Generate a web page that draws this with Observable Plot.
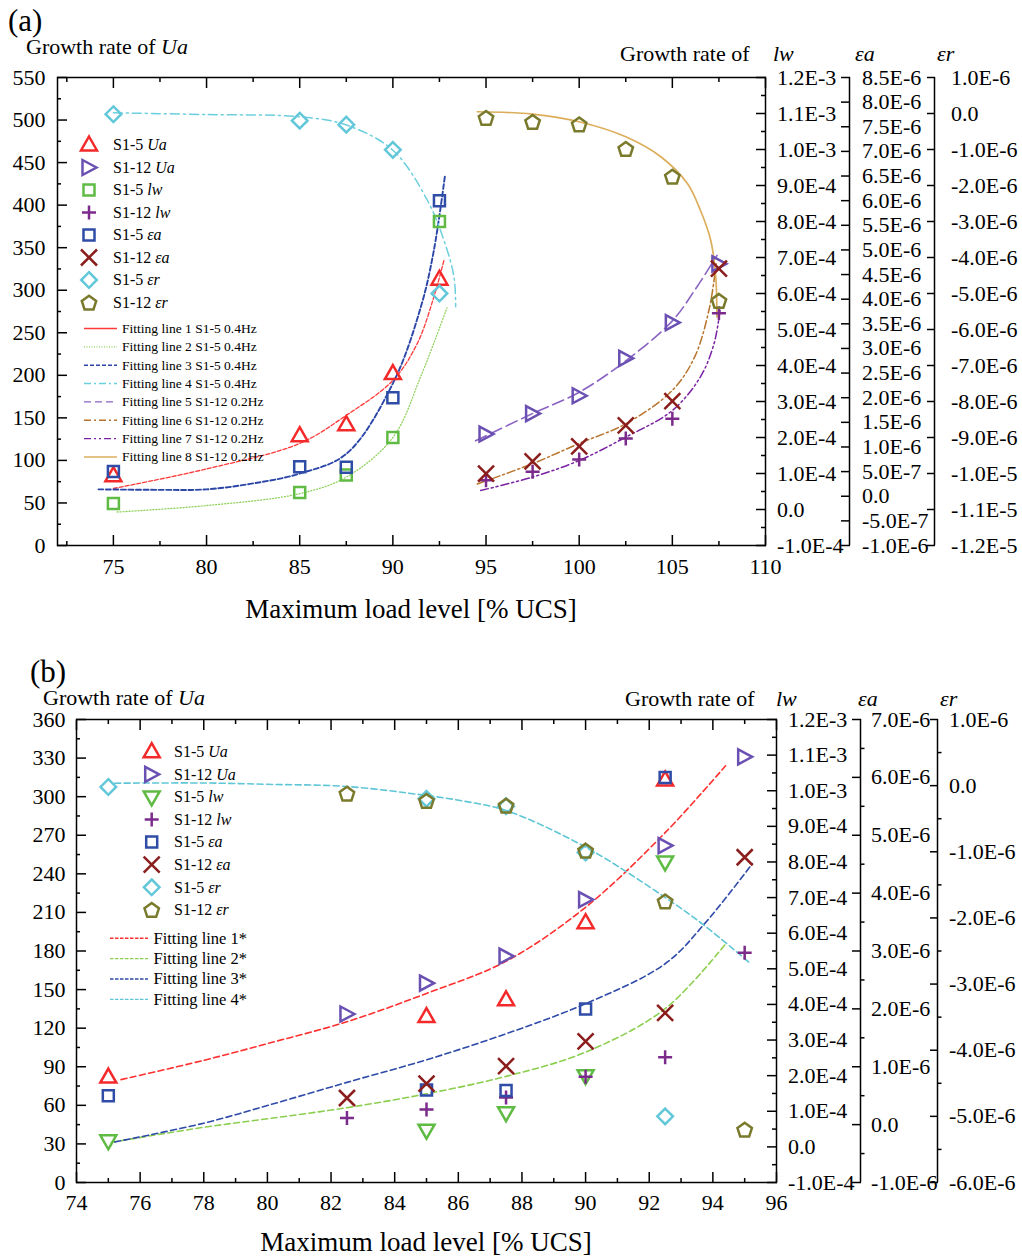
<!DOCTYPE html>
<html>
<head>
<meta charset="utf-8">
<script src="https://cdn.jsdelivr.net/npm/d3@7"></script>
<script src="https://cdn.jsdelivr.net/npm/@observablehq/plot@0.6"></script>
<style>
  html, body { margin: 0; padding: 0; background: #fff; }
  #root { position: relative; width: 1022px; height: 1258px; overflow: hidden; background: #fff; }
  #root svg { position: absolute; left: 0; }
</style>
</head>
<body>
<div id="root"></div>
<script>
const FONT = '"Liberation Serif","Times New Roman",serif';

// ---------------- data ----------------
// x positions (maximum load level, % UCS)
const loadS15 = [75, 85, 87.5, 90, 92.5];
const loadS112A = [95, 97.5, 100, 102.5, 105, 107.5];
const loadS112B = [82.5, 85, 87.5, 90, 92.5, 95];

// growth rates
const s15Ua = [82, 129, 142, 202, 313];
const s112Ua = [131, 155, 176, 220, 262, 331];
const s15Lw = [1.7e-5, 4.7e-5, 9.6e-5, 2.0e-4, 8.0e-4];
const s112Lw = [8.1e-5, 1.05e-4, 1.39e-4, 1.97e-4, 2.52e-4, 5.45e-4];
const s15Ea = [5.0e-7, 6.0e-7, 5.9e-7, 2.0e-6, 6.0e-6];
const s112Ea = [4.6e-7, 7.1e-7, 1.01e-6, 1.44e-6, 1.93e-6, 4.62e-6];
const s15Er = [-2e-8, -2.0e-7, -3.1e-7, -1.01e-6, -5.0e-6];
const s112Er = [-1.2e-7, -2.3e-7, -3.0e-7, -9.8e-7, -1.75e-6, -5.2e-6];

// fitting lines, panel (a)
const fit1Ax = [75, 80, 85, 87.5, 90, 91.3, 92.2, 92.74];
const fit1Ay = [67, 90, 120, 153, 194, 237, 292, 335];            // Ua
const fit2Ax = [75.2, 80, 85, 87.5, 90, 91.5, 92.9];
const fit2Ay = [-7e-6, 1.1e-5, 4.4e-5, 9.0e-5, 2.0e-4, 3.7e-4, 5.6e-4]; // lw
const fit3Ax = [74.2, 77.5, 80, 82.5, 85, 87.5, 90, 91.5, 92.2, 92.8];
const fit3Ay = [1.4e-7, 1.3e-7, 1.4e-7, 2.6e-7, 4.6e-7, 8.6e-7, 2.29e-6, 3.84e-6, 4.99e-6, 6.52e-6]; // ea
const fit4Ax = [75, 80, 85, 87.5, 90, 91.85, 92.74, 93.28, 93.37];
const fit4Ay = [2e-8, -3e-8, -9e-8, -3.2e-7, -1.02e-6, -2.41e-6, -3.52e-6, -4.54e-6, -5.37e-6]; // er
const fit5Ax = [94.44, 97.49, 99.99, 102.5, 105.0, 106.2, 107.4];
const fit5Ay = [123, 155, 180, 217, 264, 300, 341];               // Ua
const fit6Ax = [94.53, 97.49, 99.99, 102.5, 105.0, 106.2, 107.0, 107.35];
const fit6Ay = [2.5e-7, 6.6e-7, 1.07e-6, 1.47e-6, 2.15e-6, 2.83e-6, 3.84e-6, 4.72e-6]; // ea
const fit7Ax = [94.71, 97.49, 99.99, 102.5, 105, 106.5, 107.24, 107.56];
const fit7Ay = [5.3e-5, 9.0e-5, 1.36e-4, 2.01e-4, 2.75e-4, 3.68e-4, 4.61e-4, 5.53e-4]; // lw
const fit8Ax = [94.53, 97.49, 99.99, 102.5, 104.38, 105.8, 106.5, 107.06, 107.33, 107.39];
const fit8Ay = [4.9e-8, -1.5e-8, -2.29e-7, -6.46e-7, -1.20e-6, -1.94e-6, -2.68e-6, -3.52e-6, -4.54e-6, -5.65e-6]; // er

// fitting lines, panel (b)
const fit1Bx = [75.4, 78, 80, 82.5, 85, 87.5, 90, 92.5, 94.4];
const fit1By = [80, 95, 108, 125, 147, 172, 214, 272, 324];       // Ua
const fit2Bx = [75.1, 78, 80, 82.5, 85, 87.5, 90, 92.5, 94.4];
const fit2By = [1.3e-5, 5.5e-5, 7.9e-5, 1.10e-4, 1.49e-4, 1.98e-4, 2.66e-4, 3.88e-4, 5.70e-4]; // lw
const fit3Bx = [75.2, 78, 80, 82.5, 85, 87.5, 90, 92.5, 93.8, 95.24];
const fit3By = [-3.0e-7, 2.5e-8, 3.3e-7, 7.3e-7, 1.12e-6, 1.57e-6, 2.09e-6, 2.78e-6, 3.51e-6, 4.51e-6]; // ea
const fit4Bx = [75.2, 78, 80, 82.5, 85, 86.06, 87.5, 90, 92.5, 93.8, 95.18];
const fit4By = [3.7e-8, 4e-8, 2e-8, -1.3e-8, -1.49e-7, -2.25e-7, -3.76e-7, -9.3e-7, -1.69e-6, -2.14e-6, -2.69e-6]; // er

// axis domains
const uaDomA = [0, 550], uaDomB = [0, 360];
const lwDom = [-1e-4, 1.2e-3];
const eaDomA = [-1e-6, 8.5e-6], eaDomB = [-1e-6, 7e-6];
const erDomA = [-1.2e-5, 1e-6], erDomB = [-6e-6, 1e-6];
const xDomA = [72, 110], xDomB = [74, 96];

// tick values
const xTicksA = [75, 80, 85, 90, 95, 100, 105, 110];
const xMinorA = [72.5, 77.5, 82.5, 87.5, 92.5, 97.5, 102.5, 107.5];
const uaTicksA = [0, 50, 100, 150, 200, 250, 300, 350, 400, 450, 500, 550];
const uaMinorA = [25, 75, 125, 175, 225, 275, 325, 375, 425, 475, 525];
const xTicksB = [74, 76, 78, 80, 82, 84, 86, 88, 90, 92, 94, 96];
const xMinorB = [75, 77, 79, 81, 83, 85, 87, 89, 91, 93, 95];
const uaTicksB = [0, 30, 60, 90, 120, 150, 180, 210, 240, 270, 300, 330, 360];
const uaMinorB = [15, 45, 75, 105, 135, 165, 195, 225, 255, 285, 315, 345];
const lwTicks = [-1e-4, 0, 1e-4, 2e-4, 3e-4, 4e-4, 5e-4, 6e-4, 7e-4, 8e-4, 9e-4, 1e-3, 1.1e-3, 1.2e-3];
const lwMinor = [-5e-5, 5e-5, 1.5e-4, 2.5e-4, 3.5e-4, 4.5e-4, 5.5e-4, 6.5e-4, 7.5e-4, 8.5e-4, 9.5e-4, 1.05e-3, 1.15e-3];
const eaTicksA = [-1e-6, -5e-7, 0, 5e-7, 1e-6, 1.5e-6, 2e-6, 2.5e-6, 3e-6, 3.5e-6, 4e-6, 4.5e-6, 5e-6, 5.5e-6, 6e-6, 6.5e-6, 7e-6, 7.5e-6, 8e-6, 8.5e-6];
const erTicksA = [-1.2e-5, -1.1e-5, -1e-5, -9e-6, -8e-6, -7e-6, -6e-6, -5e-6, -4e-6, -3e-6, -2e-6, -1e-6, 0, 1e-6];
const eaTicksB = [-1e-6, 0, 1e-6, 2e-6, 3e-6, 4e-6, 5e-6, 6e-6, 7e-6];
const eaMinorB = [-5e-7, 5e-7, 1.5e-6, 2.5e-6, 3.5e-6, 4.5e-6, 5.5e-6, 6.5e-6];
const erTicksB = [-6e-6, -5e-6, -4e-6, -3e-6, -2e-6, -1e-6, 0, 1e-6];
const erMinorB = [-5.5e-6, -4.5e-6, -3.5e-6, -2.5e-6, -1.5e-6, -5e-7, 5e-7];

// colours
const cS15Ua = "#f42a2a", cS112Ua = "#6a50b2", cS15Lw = "#5fbb43", cS112Lw = "#7b2b8b";
const cS15Ea = "#2f4ca6", cS112Ea = "#8b1d1d", cS15Er = "#62c8d9", cS112Er = "#7a7a2c";

// ---------------- symbols ----------------
function poly(pts) {
  return {draw(ctx) { ctx.moveTo(pts[0][0], pts[0][1]); for (let i = 1; i < pts.length; i++) ctx.lineTo(pts[i][0], pts[i][1]); ctx.closePath(); }};
}
const symTriUp = poly([[0, -8.5], [8, 5.5], [-8, 5.5]]);
const symTriDown = poly([[0, 8.5], [8, -5.5], [-8, -5.5]]);
const symTriRight = poly([[7.5, 0], [-6.5, -7.5], [-6.5, 7.5]]);
const symSquare = poly([[-5.5, -5.5], [5.5, -5.5], [5.5, 5.5], [-5.5, 5.5]]);
const symDiamond = poly([[0, -7.8], [7.8, 0], [0, 7.8], [-7.8, 0]]);
const symPentagon = poly(d3.range(5).map(i => { const a = -Math.PI / 2 + i * 2 * Math.PI / 5; return [7.6 * Math.cos(a), 7.6 * Math.sin(a) + 0.8]; }));
const symPlus = {draw(ctx) { ctx.moveTo(-7, 0); ctx.lineTo(7, 0); ctx.moveTo(0, -7); ctx.lineTo(0, 7); }};
const symCross = {draw(ctx) { ctx.moveTo(-8, -8); ctx.lineTo(8, 8); ctx.moveTo(-8, 8); ctx.lineTo(8, -8); }};

const fmtE = v => Math.abs(v) < 1e-15 ? "0.0" : v.toExponential(1).replace("e", "E").replace("+", "");

function makePanel(cfg) {
  const L = cfg.left;
  const conv = dom => v => L[0] + (v - dom[0]) / (dom[1] - dom[0]) * (L[1] - L[0]);
  const to = {ua: v => v, lw: conv(lwDom), ea: conv(cfg.eaDom), er: conv(cfg.erDom)};
  const labeller = (ticks, f) => { const m = new Map(ticks.map(t => [f(t), fmtE(t)])); return d => m.get(d); };
  const pts = (xs, vs, k) => xs.map((x, i) => ({x, y: to[k](vs[i])}));
  const W = 1.5;
  const marks = [];
  for (const f of cfg.fits) {
    marks.push(Plot.line(pts(f.x, f.v, f.axis), {x: "x", y: "y", stroke: f.color, strokeWidth: f.width, strokeDasharray: f.dash, curve: "catmull-rom"}));
  }
  for (const s of cfg.series) {
    marks.push(Plot.dot(pts(s.x, s.v, s.axis), {x: "x", y: "y", symbol: s.sym, stroke: s.color, strokeWidth: 2.5, fill: "none", strokeLinejoin: "miter"}));
  }
  marks.push(
    Plot.frame({stroke: "#000", strokeWidth: W}),
    Plot.axisY(cfg.uaTicks, {anchor: "left", tickSize: -10, tickPadding: cfg.leftPad, strokeWidth: W, fontSize: 22, label: null, tickFormat: d => String(d)}),
    Plot.axisY(cfg.uaMinor, {anchor: "left", tickSize: -4, strokeWidth: W, fill: "none", label: null}),
    Plot.axisX(cfg.xTicks, {anchor: "bottom", tickSize: -10, tickPadding: cfg.bottomPad, strokeWidth: W, fontSize: 22, label: null, tickFormat: d => String(d)}),
    Plot.axisX(cfg.xMinor, {anchor: "bottom", tickSize: -4, strokeWidth: W, fill: "none", label: null}),
    Plot.axisX(cfg.xTicks, {anchor: "top", tickSize: -10, strokeWidth: W, fill: "none", label: null}),
    Plot.axisX(cfg.xMinor, {anchor: "top", tickSize: -4, strokeWidth: W, fill: "none", label: null}),
    Plot.axisY(lwTicks.map(to.lw), {anchor: "right", tickSize: -10, tickPadding: cfg.lwPad, strokeWidth: W, fontSize: 22, label: null, tickFormat: labeller(lwTicks, to.lw)}),
    Plot.axisY(lwMinor.map(to.lw), {anchor: "right", tickSize: -5, strokeWidth: W, fill: "none", label: null}),
    Plot.ruleX([cfg.xDom[1]], {dx: cfg.eaOff, stroke: "#000", strokeWidth: W}),
    Plot.axisY(cfg.eaTicks.map(to.ea), {anchor: "right", dx: cfg.eaOff, tickSize: -9, tickPadding: cfg.eaPad, strokeWidth: W, fontSize: 22, label: null, tickFormat: labeller(cfg.eaTicks, to.ea)}),
    Plot.ruleX([cfg.xDom[1]], {dx: cfg.erOff, stroke: "#000", strokeWidth: W}),
    Plot.axisY(cfg.erTicks.map(to.er), {anchor: "right", dx: cfg.erOff, tickSize: -8, tickPadding: cfg.erPad, strokeWidth: W, fontSize: 22, label: null, tickFormat: labeller(cfg.erTicks, to.er)})
  );
  if (cfg.eaMinor) marks.push(Plot.axisY(cfg.eaMinor.map(to.ea), {anchor: "right", dx: cfg.eaOff, tickSize: 3.5, strokeWidth: W, fill: "none", label: null}));
  if (cfg.erMinor) marks.push(Plot.axisY(cfg.erMinor.map(to.er), {anchor: "right", dx: cfg.erOff, tickSize: 3.5, strokeWidth: W, fill: "none", label: null}));

  const svg = Plot.plot({
    width: 1022, height: cfg.height,
    marginLeft: cfg.ml, marginRight: cfg.mr, marginTop: cfg.mt, marginBottom: cfg.mb,
    x: {domain: cfg.xDom},
    y: {domain: L},
    style: {fontFamily: FONT, fontSize: "22px", color: "#000", background: "transparent", overflow: "visible"},
    marks
  });
  svg.style.top = cfg.top + "px";
  svg.style.maxWidth = "none";
  return svg;
}

function addText(svg, x, y, parts, size, anchor) {
  const t = d3.select(svg).append("text").attr("x", x).attr("y", y).attr("font-size", size)
    .attr("font-family", FONT).attr("fill", "#000").attr("text-anchor", anchor || "start");
  for (const p of parts) {
    const s = t.append("tspan").text(typeof p === "string" ? p : p.t);
    if (typeof p !== "string") s.attr("font-style", "italic");
  }
}

function addLegend(svg, lg) {
  const g = d3.select(svg).append("g").attr("text-anchor", "start");
  lg.markers.forEach((m, i) => {
    const y = lg.my0 + i * lg.mdy;
    const p = d3.path(); m.sym.draw(p, 0);
    g.append("path").attr("d", p.toString()).attr("transform", `translate(${lg.mx},${y})`)
      .attr("fill", "none").attr("stroke", m.color).attr("stroke-width", 2.5).attr("stroke-linejoin", "miter");
    const t = g.append("text").attr("x", lg.mtx).attr("y", y + lg.mfs * 0.33).attr("font-size", lg.mfs)
      .attr("font-family", FONT).attr("fill", "#000").attr("text-anchor", "start");
    t.append("tspan").text(m.label[0]);
    t.append("tspan").attr("font-style", "italic").text(m.label[1]);
  });
  lg.fits.forEach((f, i) => {
    const y = lg.fy0 + i * lg.fdy;
    g.append("line").attr("x1", lg.fx1).attr("x2", lg.fx2).attr("y1", y).attr("y2", y)
      .attr("stroke", f.color).attr("stroke-width", f.lw || 1.4).attr("stroke-dasharray", f.ldash || null);
    g.append("text").attr("x", lg.ftx).attr("y", y + lg.ffs * 0.33).attr("font-size", lg.ffs)
      .attr("font-family", FONT).attr("fill", "#000").attr("text-anchor", "start").text(f.label);
  });
}

// ---------------- panel (a) ----------------
const fitsA = [
  {x: fit1Ax, v: fit1Ay, axis: "ua", color: "#ff3838", width: 1.3, dash: "4,2", ldash: null, label: "Fitting line 1 S1-5 0.4Hz"},
  {x: fit2Ax, v: fit2Ay, axis: "lw", color: "#8fd05a", width: 1.3, dash: "1,2", ldash: "1,1.5", label: "Fitting line 2 S1-5 0.4Hz"},
  {x: fit3Ax, v: fit3Ay, axis: "ea", color: "#2c46a8", width: 1.9, dash: "5,2.5", ldash: "4,2", label: "Fitting line 3 S1-5 0.4Hz"},
  {x: fit4Ax, v: fit4Ay, axis: "er", color: "#6ccfdd", width: 1.5, dash: "9,4,2,4", ldash: "7,3,2,3", label: "Fitting line 4 S1-5 0.4Hz"},
  {x: fit5Ax, v: fit5Ay, axis: "ua", color: "#8a63c3", width: 1.6, dash: "12,5", ldash: "7,4", label: "Fitting line 5 S1-12 0.2Hz"},
  {x: fit6Ax, v: fit6Ay, axis: "ea", color: "#b8742c", width: 1.5, dash: "8,3,2,3", ldash: "7,3,2,3", label: "Fitting line 6 S1-12 0.2Hz"},
  {x: fit7Ax, v: fit7Ay, axis: "lw", color: "#7a22a4", width: 1.5, dash: "8,3,2,3,2,3", ldash: "7,3,2,3,2,3", label: "Fitting line 7 S1-12 0.2Hz"},
  {x: fit8Ax, v: fit8Ay, axis: "er", color: "#dcae5c", width: 1.7, dash: null, ldash: null, label: "Fitting line 8 S1-12 0.2Hz"}
];
const seriesA = [
  {x: loadS15, v: s15Ua, axis: "ua", sym: symTriUp, color: cS15Ua, label: ["S1-5 ", "Ua"]},
  {x: loadS112A, v: s112Ua, axis: "ua", sym: symTriRight, color: cS112Ua, label: ["S1-12 ", "Ua"]},
  {x: loadS15, v: s15Lw, axis: "lw", sym: symSquare, color: cS15Lw, label: ["S1-5 ", "lw"]},
  {x: loadS112A, v: s112Lw, axis: "lw", sym: symPlus, color: cS112Lw, label: ["S1-12 ", "lw"]},
  {x: loadS15, v: s15Ea, axis: "ea", sym: symSquare, color: cS15Ea, label: ["S1-5 ", "εa"]},
  {x: loadS112A, v: s112Ea, axis: "ea", sym: symCross, color: cS112Ea, label: ["S1-12 ", "εa"]},
  {x: loadS15, v: s15Er, axis: "er", sym: symDiamond, color: cS15Er, label: ["S1-5 ", "εr"]},
  {x: loadS112A, v: s112Er, axis: "er", sym: symPentagon, color: cS112Er, label: ["S1-12 ", "εr"]}
];
const svgA = makePanel({
  top: 0, height: 640, ml: 57, mr: 257, mt: 77, mb: 95,
  xDom: xDomA, left: uaDomA, eaDom: eaDomA, erDom: erDomA,
  xTicks: xTicksA, xMinor: xMinorA, uaTicks: uaTicksA, uaMinor: uaMinorA,
  eaTicks: eaTicksA, erTicks: erTicksA,
  leftPad: 22, bottomPad: 23, lwPad: 21.5, eaPad: 21.5, erPad: 24.5, eaOff: 84, erOff: 169,
  fits: fitsA, series: seriesA
});
addText(svgA, 8, 31, ["(a)"], 31);
addText(svgA, 26, 54, ["Growth rate of ", {t: "Ua"}], 22);
addText(svgA, 620, 61, ["Growth rate of"], 22);
addText(svgA, 773, 61, [{t: "lw"}], 22);
addText(svgA, 855, 61, [{t: "εa"}], 22);
addText(svgA, 937, 61, [{t: "εr"}], 22);
addText(svgA, 411, 618, ["Maximum load level [% UCS]"], 27, "middle");
addLegend(svgA, {
  markers: seriesA, mx: 89, my0: 145, mdy: 22.5, mtx: 113, mfs: 16,
  fits: fitsA, fy0: 328.5, fdy: 18.35, fx1: 84, fx2: 117, ftx: 122, ffs: 13.5
});

// ---------------- panel (b) ----------------
const fitsB = [
  {x: fit1Bx, v: fit1By, axis: "ua", color: "#ff3030", width: 1.6, dash: "6,3.5", ldash: "3.5,1.5", label: "Fitting line 1*"},
  {x: fit2Bx, v: fit2By, axis: "lw", color: "#8ccf50", width: 1.6, dash: "6,3.5", ldash: "3.5,1.5", label: "Fitting line 2*"},
  {x: fit3Bx, v: fit3By, axis: "ea", color: "#2e4aa8", width: 1.6, dash: "6,3.5", ldash: "3.5,1.5", label: "Fitting line 3*"},
  {x: fit4Bx, v: fit4By, axis: "er", color: "#5ec6d6", width: 1.6, dash: "6,3.5", ldash: "3.5,1.5", label: "Fitting line 4*"}
];
const seriesB = [
  {x: loadS15, v: s15Ua, axis: "ua", sym: symTriUp, color: cS15Ua, label: ["S1-5 ", "Ua"]},
  {x: loadS112B, v: s112Ua, axis: "ua", sym: symTriRight, color: cS112Ua, label: ["S1-12 ", "Ua"]},
  {x: loadS15, v: s15Lw, axis: "lw", sym: symTriDown, color: cS15Lw, label: ["S1-5 ", "lw"]},
  {x: loadS112B, v: s112Lw, axis: "lw", sym: symPlus, color: cS112Lw, label: ["S1-12 ", "lw"]},
  {x: loadS15, v: s15Ea, axis: "ea", sym: symSquare, color: cS15Ea, label: ["S1-5 ", "εa"]},
  {x: loadS112B, v: s112Ea, axis: "ea", sym: symCross, color: cS112Ea, label: ["S1-12 ", "εa"]},
  {x: loadS15, v: s15Er, axis: "er", sym: symDiamond, color: cS15Er, label: ["S1-5 ", "εr"]},
  {x: loadS112B, v: s112Er, axis: "er", sym: symPentagon, color: cS112Er, label: ["S1-12 ", "εr"]}
];
const svgB = makePanel({
  top: 640, height: 618, ml: 76, mr: 246, mt: 79, mb: 76,
  xDom: xDomB, left: uaDomB, eaDom: eaDomB, erDom: erDomB,
  xTicks: xTicksB, xMinor: xMinorB, uaTicks: uaTicksB, uaMinor: uaMinorB,
  eaTicks: eaTicksB, erTicks: erTicksB, eaMinor: eaMinorB, erMinor: erMinorB,
  leftPad: 21, bottomPad: 22, lwPad: 21.5, eaPad: 19.5, erPad: 19.5, eaOff: 84, erOff: 161,
  fits: fitsB, series: seriesB
});
addText(svgB, 30, 42, ["(b)"], 31);
addText(svgB, 43, 65, ["Growth rate of ", {t: "Ua"}], 22);
addText(svgB, 625, 66, ["Growth rate of"], 22);
addText(svgB, 776, 66, [{t: "lw"}], 22);
addText(svgB, 858, 66, [{t: "εa"}], 22);
addText(svgB, 940, 66, [{t: "εr"}], 22);
addText(svgB, 426, 611, ["Maximum load level [% UCS]"], 27, "middle");
addLegend(svgB, {
  markers: seriesB, mx: 151.7, my0: 111.7, mdy: 22.6, mtx: 174, mfs: 16,
  fits: fitsB, fy0: 298.3, fdy: 20.35, fx1: 110, fx2: 148, ftx: 153.5, ffs: 16.5
});

const root = document.getElementById("root");
root.appendChild(svgA);
root.appendChild(svgB);
</script>
</body>
</html>
